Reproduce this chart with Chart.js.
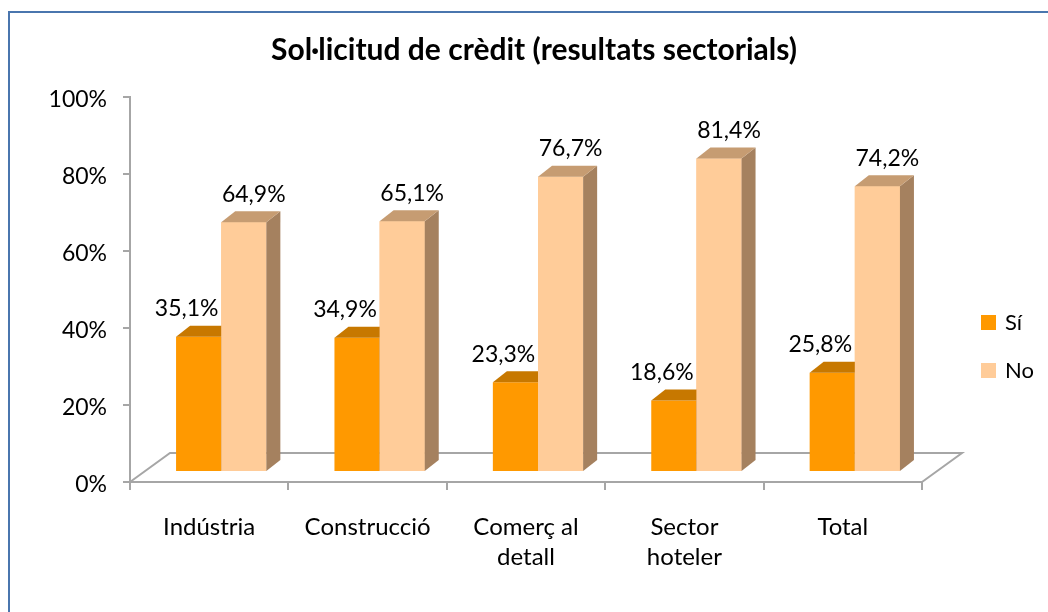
<!DOCTYPE html>
<html>
<head>
<meta charset="utf-8">
<script src="https://cdn.jsdelivr.net/npm/chart.js@4/dist/chart.umd.min.js"></script>
<style>
  html, body { margin: 0; padding: 0; background: #fff; }
</style>
</head>
<body>
<canvas id="chart" width="1048" height="612"></canvas>
<script>
// Sol·licitud de crèdit — 3D-looking clustered bars, faces added by a small plugin.

const categories = ['Indústria', 'Construcció', ['Comerç al', 'detall'], ['Sector', 'hoteler'], 'Total'];
const seriesNames = ['Sí', 'No'];
const siValues = [35.1, 34.9, 23.3, 18.6, 25.8];
const noValues = [64.9, 65.1, 76.7, 81.4, 74.2];
const yTicks = [0, 20, 40, 60, 80, 100];

const FONT = 'Lato, "Open Sans", sans-serif';
const AXIS_GRAY = '#a6a6a6';
const SHIFT = { x: 12, y: -10 };     // bars sit a bit behind the front axis
const DEPTH = { x: 14, y: 11 };      // bar depth (top/side faces)
const FLOOR = { x: 40, y: 29 };      // floor depth
const faceColors = [
  { front: '#ff9900', top: '#c77800', side: '#a86500' },
  { front: '#ffcc99', top: '#c69c72', side: '#a5815f' },
];
const labelOffset = [-12, 10];

const fmt = v => v.toFixed(1).replace('.', ',') + '%';

function poly(ctx, pts, color) {
  ctx.beginPath();
  ctx.moveTo(pts[0][0], pts[0][1]);
  for (let i = 1; i < pts.length; i++) ctx.lineTo(pts[i][0], pts[i][1]);
  ctx.closePath();
  ctx.fillStyle = color;
  ctx.fill();
}

const bar3d = {
  id: 'bar3d',
  beforeDraw(chart) {
    const ctx = chart.ctx;
    ctx.save();
    ctx.strokeStyle = '#4a76ae';
    ctx.lineWidth = 2;
    ctx.strokeRect(9, 12, 1100, 700);
    ctx.restore();
  },
  beforeDatasetsDraw(chart) {
    const { ctx, chartArea: a, scales } = chart;
    const y0 = scales.y.getPixelForValue(0);
    ctx.save();
    ctx.strokeStyle = AXIS_GRAY;
    ctx.lineWidth = 2;
    ctx.beginPath();
    ctx.moveTo(a.left, y0);
    ctx.lineTo(a.left + FLOOR.x, y0 - FLOOR.y);
    ctx.lineTo(a.right + FLOOR.x, y0 - FLOOR.y);
    ctx.lineTo(a.right, y0);
    ctx.stroke();
    ctx.restore();
    ctx.save();
    ctx.translate(SHIFT.x, SHIFT.y);
  },
  afterDatasetsDraw(chart) {
    const ctx = chart.ctx;
    chart.data.datasets.forEach((ds, i) => {
      const meta = chart.getDatasetMeta(i);
      // redraw fronts so faces of the previous series stay behind
      if (i > 0) meta.data.forEach(el => el.draw(ctx));
      const c = faceColors[i];
      meta.data.forEach(el => {
        const { x, y, base, width } = el.getProps(['x', 'y', 'base', 'width'], true);
        const l = x - width / 2, r = x + width / 2;
        poly(ctx, [[r, y], [r + DEPTH.x, y - DEPTH.y], [r + DEPTH.x, base - DEPTH.y], [r, base]], c.side);
        poly(ctx, [[l, y], [l + DEPTH.x, y - DEPTH.y], [r + DEPTH.x, y - DEPTH.y], [r, y]], c.top);
      });
    });
    // value labels
    ctx.font = '23px ' + FONT;
    ctx.fillStyle = '#000';
    ctx.textAlign = 'center';
    ctx.textBaseline = 'middle';
    chart.data.datasets.forEach((ds, i) => {
      chart.getDatasetMeta(i).data.forEach((el, j) => {
        ctx.fillText(fmt(ds.data[j]), el.x + labelOffset[i], el.y - 28);
      });
    });
    ctx.restore();

    // legend
    const a = chart.chartArea;
    ctx.save();
    ctx.font = '22px ' + FONT;
    ctx.textAlign = 'left';
    ctx.textBaseline = 'middle';
    chart.data.datasets.forEach((ds, i) => {
      const cy = 322 + i * 48;
      ctx.fillStyle = ds.backgroundColor;
      ctx.fillRect(a.right + 59, cy - 7, 15, 15);
      ctx.fillStyle = '#000';
      ctx.fillText(ds.label, a.right + 83, cy + 1);
    });
    ctx.restore();
  },
};

new Chart(document.getElementById('chart'), {
  type: 'bar',
  data: {
    labels: categories,
    datasets: [
      { label: seriesNames[0], data: siValues, backgroundColor: faceColors[0].front, clip: false },
      { label: seriesNames[1], data: noValues, backgroundColor: faceColors[1].front, clip: false },
    ],
  },
  options: {
    responsive: false,
    devicePixelRatio: 1,
    animation: false,
    events: [],
    categoryPercentage: 0.57,
    barPercentage: 1.0,
    layout: { padding: { top: 0, left: 20, right: 0, bottom: 0 } },
    plugins: {
      legend: { display: false },
      tooltip: { enabled: false },
      title: {
        display: true,
        text: 'Sol·licitud de crèdit (resultats sectorials)',
        color: '#000',
        font: { family: FONT, size: 30, weight: 'bold' },
        padding: { top: 32, bottom: 29 },
      },
    },
    scales: {
      x: {
        afterFit: s => { s.height = 130; },
        grid: {
          display: true, drawOnChartArea: false, offset: true,
          color: AXIS_GRAY, lineWidth: 2, tickLength: 8,
        },
        border: { color: AXIS_GRAY, width: 2 },
        ticks: {
          color: '#000', padding: 22, maxRotation: 0, autoSkip: false,
          font: { family: FONT, size: 24, lineHeight: 1.25 },
        },
      },
      y: {
        min: 0, max: 100,
        afterFit: s => { s.width = 110; },
        afterBuildTicks: s => { s.ticks = yTicks.map(v => ({ value: v })); },
        grid: {
          display: true, drawOnChartArea: false,
          color: AXIS_GRAY, lineWidth: 2, tickLength: 7,
        },
        border: { color: AXIS_GRAY, width: 2 },
        ticks: {
          color: '#000', padding: 16, labelOffset: 3,
          font: { family: FONT, size: 23 },
          callback: v => v + '%',
        },
      },
      // empty right-hand box that reserves room for the legend
      legendSpace: {
        type: 'linear', position: 'right', display: true,
        afterFit: s => { s.width = 126; },
        grid: { display: false },
        border: { display: false },
        ticks: { display: false },
      },
    },
  },
  plugins: [bar3d],
});
</script>
</body>
</html>
